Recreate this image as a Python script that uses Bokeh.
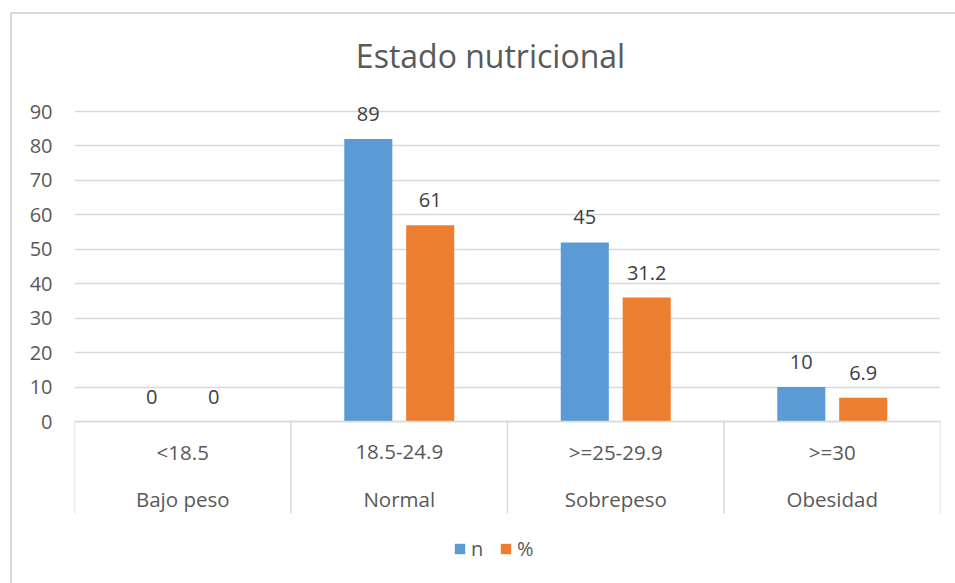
import numpy as np
from bokeh.plotting import figure
from bokeh.models import Range1d, FixedTicker, Span, ColumnDataSource, Legend, LegendItem
from bokeh.core.properties import value
from bokeh.embed import file_html
from bokeh.resources import INLINE

# ---- data ----
ranges_imc = ["<18.5", "18.5-24.9", ">=25-29.9", ">=30"]
categories = ["Bajo peso", "Normal", "Sobrepeso", "Obesidad"]
n_bar = [0, 82, 52, 10]          # drawn bar heights
pct_bar = [0, 57, 36, 6.9]
n_label = ["0", "89", "45", "10"]  # printed data labels
pct_label = ["0", "61", "31.2", "6.9"]
y_ticks = [0, 10, 20, 30, 40, 50, 60, 70, 80, 90]
title_text = "Estado nutricional"

# ---- layout constants (pixels) ----
W, H = 955, 583
LEFT, RIGHT = 74, 940
TOP, BOTTOM = 12, 583
Y0_PX, Y90_PX = 421, 111
SCALE = (Y0_PX - Y90_PX) / 90.0
XSCALE = (RIGHT - LEFT) / 4.0


def py(p):
    return (Y0_PX - p) / SCALE


def px(p):
    return (p - LEFT) / XSCALE


FONT = "Open Sans"
GREY = "#595959"
GRID = "#d9d9d9"
BLUE = "#5b9bd5"
ORANGE = "#ed7d31"

p = figure(width=W, height=H, output_backend="svg", toolbar_location=None,
           x_range=Range1d(0, len(categories)), y_range=Range1d(py(BOTTOM), py(TOP)),
           min_border_left=LEFT, min_border_right=W - RIGHT,
           min_border_top=TOP, min_border_bottom=0)
p.outline_line_color = None
p.background_fill_color = None
p.border_fill_color = None
p.styles = {
    "background-color": "white",
    "background-image": "linear-gradient(#d9d9d9,#d9d9d9), linear-gradient(#d9d9d9,#d9d9d9)",
    "background-position": "10px 12px, 10px 12px",
    "background-size": "2px 100%, 100% 2px",
    "background-repeat": "no-repeat",
}
p.xaxis.visible = False
p.xgrid.visible = False

p.yaxis.ticker = FixedTicker(ticks=y_ticks)
p.ygrid.ticker = FixedTicker(ticks=y_ticks)
p.ygrid.grid_line_color = GRID
p.ygrid.grid_line_width = 1.5
p.yaxis.axis_line_color = None
p.yaxis.major_tick_line_color = None
p.yaxis.minor_tick_line_color = None
p.yaxis.major_tick_out = 0
p.yaxis.major_tick_in = 0
p.yaxis.minor_tick_out = 0
p.yaxis.major_label_standoff = 22
p.yaxis.major_label_text_font = FONT
p.yaxis.major_label_text_font_size = "20px"
p.yaxis.major_label_text_color = GREY

# baseline
p.add_layout(Span(location=0, dimension="width", line_color=GRID, line_width=1.5))

# category separators
k = len(categories)
p.segment(x0=list(range(k + 1)), y0=[0] * (k + 1), x1=list(range(k + 1)),
          y1=[py(513)] * (k + 1), line_color=GRID, line_width=1.5)

xc = np.arange(k) + 0.5
off = 0.143
bw = 0.222
src = ColumnDataSource(dict(xn=xc - off, xp=xc + off, n=n_bar, pct=pct_bar,
                            nl=n_label, pl=pct_label, xc=xc,
                            r=ranges_imc, c=categories))
rn = p.vbar(x="xn", top="n", width=bw, bottom=0, source=src, fill_color=BLUE, line_color=None)
rp = p.vbar(x="xp", top="pct", width=bw, bottom=0, source=src, fill_color=ORANGE, line_color=None)

lab_kw = dict(source=src, text_font=value(FONT), text_font_size="20px", text_color="#404040",
              text_align="center", text_baseline="alphabetic", y_offset=-25)
p.text(x="xn", y="n", text="nl", **lab_kw)
p.text(x="xp", y="pct", text="pl", **lab_kw)

cat_kw = dict(source=src, text_font=value(FONT), text_font_size="20.5px", text_color=GREY,
              text_align="center", text_baseline="middle")
p.text(x="xc", y=py(451), text="r", **cat_kw)
p.text(x="xc", y=py(498), text="c", **cat_kw)

# title
p.text(x=[px(490)], y=[py(55)], text=[title_text], text_font=value(FONT), text_font_size="32px",
       text_color=GREY, text_align="center", text_baseline="middle")

legend = Legend(items=[LegendItem(label="n", renderers=[rn]), LegendItem(label="%", renderers=[rp])],
                orientation="horizontal", location=(453 - LEFT, BOTTOM - 562))
legend.border_line_color = None
legend.background_fill_alpha = 0
legend.padding = 0
legend.margin = 0
legend.spacing = 8
legend.label_standoff = 5
legend.glyph_width = 13
legend.glyph_height = 13
legend.label_height = 13
legend.label_text_font = FONT
legend.label_text_font_size = "20px"
legend.label_text_color = GREY
p.add_layout(legend)

open("out.html", "w").write(file_html(p, INLINE))
